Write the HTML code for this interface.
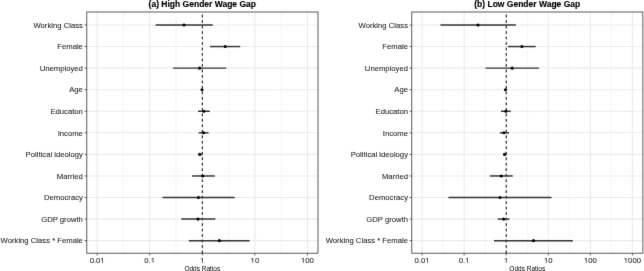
<!DOCTYPE html>
<html><head><meta charset="utf-8"><style>
html,body{margin:0;padding:0;background:#fff;width:644px;height:271px;overflow:hidden}
svg{display:block;-webkit-font-smoothing:antialiased;will-change:transform;font-family:"Liberation Sans",sans-serif}
.g{stroke:#EBEBEB;stroke-width:1.1}
.gm{stroke:#F2F2F2;stroke-width:0.8}
.d{stroke:#000;stroke-width:1;stroke-dasharray:2.6 2.887}
.e{stroke:#333333;stroke-width:1.45}
circle{fill:#000}
.bd{fill:none;stroke:#333333;stroke-width:0.8}
.t{stroke:#333333;stroke-width:0.8}
.yl{text-anchor:end;font-size:7.7px;fill:#262626;stroke:#262626;stroke-width:0.08px}
.xl{text-anchor:middle;font-size:7.7px;fill:#262626;stroke:#262626;stroke-width:0.08px}
.at{text-anchor:middle;font-size:6.5px;fill:#000;stroke:#000;stroke-width:0.0px}
.ti{text-anchor:middle;font-size:8.5px;font-weight:bold;fill:#000;stroke:#000;stroke-width:0.15px}
</style></head><body>
<svg width="644" height="271" viewBox="0 0 644 271">
<defs><filter id="b" x="0" y="0" width="644" height="271" filterUnits="userSpaceOnUse" color-interpolation-filters="sRGB"><feConvolveMatrix order="3" kernelMatrix="0.00524 0.06192 0.00524 0.06192 0.73137 0.06192 0.00524 0.06192 0.00524" edgeMode="duplicate" preserveAlpha="true"/></filter></defs>
<g filter="url(#b)">
<rect width="644" height="271" fill="#fff"/>
<line x1="123.41" y1="12.0" x2="123.41" y2="253.2" class="gm"/>
<line x1="176.00" y1="12.0" x2="176.00" y2="253.2" class="gm"/>
<line x1="228.60" y1="12.0" x2="228.60" y2="253.2" class="gm"/>
<line x1="281.19" y1="12.0" x2="281.19" y2="253.2" class="gm"/>
<line x1="97.12" y1="12.0" x2="97.12" y2="253.2" class="g"/>
<line x1="149.71" y1="12.0" x2="149.71" y2="253.2" class="g"/>
<line x1="202.30" y1="12.0" x2="202.30" y2="253.2" class="g"/>
<line x1="254.89" y1="12.0" x2="254.89" y2="253.2" class="g"/>
<line x1="307.48" y1="12.0" x2="307.48" y2="253.2" class="g"/>
<line x1="86.6" y1="25.00" x2="318.0" y2="25.00" class="g"/>
<line x1="86.6" y1="46.56" x2="318.0" y2="46.56" class="g"/>
<line x1="86.6" y1="68.13" x2="318.0" y2="68.13" class="g"/>
<line x1="86.6" y1="89.70" x2="318.0" y2="89.70" class="g"/>
<line x1="86.6" y1="111.26" x2="318.0" y2="111.26" class="g"/>
<line x1="86.6" y1="132.82" x2="318.0" y2="132.82" class="g"/>
<line x1="86.6" y1="154.39" x2="318.0" y2="154.39" class="g"/>
<line x1="86.6" y1="175.96" x2="318.0" y2="175.96" class="g"/>
<line x1="86.6" y1="197.52" x2="318.0" y2="197.52" class="g"/>
<line x1="86.6" y1="219.09" x2="318.0" y2="219.09" class="g"/>
<line x1="86.6" y1="240.65" x2="318.0" y2="240.65" class="g"/>
<line x1="202.30" y1="253.3" x2="202.30" y2="12.0" class="d"/>
<line x1="155.6" y1="25.00" x2="212.7" y2="25.00" class="e"/>
<circle cx="184.0" cy="25.00" r="1.55"/>
<line x1="210.0" y1="46.56" x2="240.2" y2="46.56" class="e"/>
<circle cx="225.2" cy="46.56" r="1.55"/>
<line x1="173.1" y1="68.13" x2="226.3" y2="68.13" class="e"/>
<circle cx="199.6" cy="68.13" r="1.55"/>
<line x1="201.2" y1="89.70" x2="202.8" y2="89.70" class="e"/>
<circle cx="202.0" cy="89.70" r="1.55"/>
<line x1="198.0" y1="111.26" x2="209.8" y2="111.26" class="e"/>
<circle cx="203.9" cy="111.26" r="1.55"/>
<line x1="198.7" y1="132.82" x2="208.6" y2="132.82" class="e"/>
<circle cx="203.6" cy="132.82" r="1.55"/>
<line x1="198.0" y1="154.39" x2="202.4" y2="154.39" class="e"/>
<circle cx="199.8" cy="154.39" r="1.55"/>
<line x1="192.1" y1="175.96" x2="214.8" y2="175.96" class="e"/>
<circle cx="202.7" cy="175.96" r="1.55"/>
<line x1="162.5" y1="197.52" x2="234.7" y2="197.52" class="e"/>
<circle cx="198.5" cy="197.52" r="1.55"/>
<line x1="181.2" y1="219.09" x2="215.3" y2="219.09" class="e"/>
<circle cx="198.0" cy="219.09" r="1.55"/>
<line x1="188.9" y1="240.65" x2="249.6" y2="240.65" class="e"/>
<circle cx="219.4" cy="240.65" r="1.55"/>
<rect x="86.8" y="12.0" width="231.20" height="241.20" class="bd"/>
<line x1="84.60" y1="25.00" x2="86.8" y2="25.00" class="t"/>
<text transform="translate(82.9,27.75) scale(1.0,1.04)" class="yl">Working Class</text>
<line x1="84.60" y1="46.56" x2="86.8" y2="46.56" class="t"/>
<text transform="translate(82.9,49.31) scale(1.0,1.04)" class="yl">Female</text>
<line x1="84.60" y1="68.13" x2="86.8" y2="68.13" class="t"/>
<text transform="translate(82.9,70.88) scale(1.0,1.04)" class="yl">Unemployed</text>
<line x1="84.60" y1="89.70" x2="86.8" y2="89.70" class="t"/>
<text transform="translate(82.9,92.45) scale(1.0,1.04)" class="yl">Age</text>
<line x1="84.60" y1="111.26" x2="86.8" y2="111.26" class="t"/>
<text transform="translate(82.9,114.01) scale(1.0,1.04)" class="yl">Educaton</text>
<line x1="84.60" y1="132.82" x2="86.8" y2="132.82" class="t"/>
<text transform="translate(82.9,135.57) scale(1.0,1.04)" class="yl">Income</text>
<line x1="84.60" y1="154.39" x2="86.8" y2="154.39" class="t"/>
<text transform="translate(82.9,157.14) scale(1.0,1.04)" class="yl">Political ideology</text>
<line x1="84.60" y1="175.96" x2="86.8" y2="175.96" class="t"/>
<text transform="translate(82.9,178.71) scale(1.0,1.04)" class="yl">Married</text>
<line x1="84.60" y1="197.52" x2="86.8" y2="197.52" class="t"/>
<text transform="translate(82.9,200.27) scale(1.0,1.04)" class="yl">Democracy</text>
<line x1="84.60" y1="219.09" x2="86.8" y2="219.09" class="t"/>
<text transform="translate(82.9,221.84) scale(1.0,1.04)" class="yl">GDP growth</text>
<line x1="84.60" y1="240.65" x2="86.8" y2="240.65" class="t"/>
<text transform="translate(82.9,243.40) scale(1.0,1.04)" class="yl">Working Class * Female</text>
<line x1="97.12" y1="253.2" x2="97.12" y2="255.40" class="t"/>
<g transform="translate(97.12,262.6) scale(1.0,1.04)"><text class="xl">0.01</text><rect x="3.45" y="-0.63" width="1.70" height="0.98" fill="#fff"/><rect x="5.83" y="-0.63" width="1.64" height="0.98" fill="#fff"/></g>
<line x1="149.71" y1="253.2" x2="149.71" y2="255.40" class="t"/>
<g transform="translate(149.71,262.6) scale(1.0,1.04)"><text class="xl">0.1</text><rect x="1.31" y="-0.63" width="1.70" height="0.98" fill="#fff"/><rect x="3.69" y="-0.63" width="1.64" height="0.98" fill="#fff"/></g>
<line x1="202.30" y1="253.2" x2="202.30" y2="255.40" class="t"/>
<g transform="translate(202.30,262.6) scale(1.0,1.04)"><text class="xl">1</text><rect x="-1.90" y="-0.63" width="1.70" height="0.98" fill="#fff"/><rect x="0.48" y="-0.63" width="1.64" height="0.98" fill="#fff"/></g>
<line x1="254.89" y1="253.2" x2="254.89" y2="255.40" class="t"/>
<g transform="translate(254.89,262.6) scale(1.0,1.04)"><text class="xl">10</text><rect x="-4.05" y="-0.63" width="1.70" height="0.98" fill="#fff"/><rect x="-1.67" y="-0.63" width="1.64" height="0.98" fill="#fff"/></g>
<line x1="307.48" y1="253.2" x2="307.48" y2="255.40" class="t"/>
<g transform="translate(307.48,262.6) scale(1.0,1.04)"><text class="xl">100</text><rect x="-6.19" y="-0.63" width="1.70" height="0.98" fill="#fff"/><rect x="-3.81" y="-0.63" width="1.64" height="0.98" fill="#fff"/></g>
<text x="202.30" y="270.8" class="at">Odds Ratios</text>
<text x="202.30" y="7.3" class="ti">(a) High Gender Wage Gap</text>
<line x1="443.14" y1="12.0" x2="443.14" y2="253.2" class="gm"/>
<line x1="485.20" y1="12.0" x2="485.20" y2="253.2" class="gm"/>
<line x1="527.25" y1="12.0" x2="527.25" y2="253.2" class="gm"/>
<line x1="569.30" y1="12.0" x2="569.30" y2="253.2" class="gm"/>
<line x1="611.36" y1="12.0" x2="611.36" y2="253.2" class="gm"/>
<line x1="422.11" y1="12.0" x2="422.11" y2="253.2" class="g"/>
<line x1="464.17" y1="12.0" x2="464.17" y2="253.2" class="g"/>
<line x1="506.22" y1="12.0" x2="506.22" y2="253.2" class="g"/>
<line x1="548.28" y1="12.0" x2="548.28" y2="253.2" class="g"/>
<line x1="590.33" y1="12.0" x2="590.33" y2="253.2" class="g"/>
<line x1="632.39" y1="12.0" x2="632.39" y2="253.2" class="g"/>
<line x1="411.6" y1="25.00" x2="642.9" y2="25.00" class="g"/>
<line x1="411.6" y1="46.56" x2="642.9" y2="46.56" class="g"/>
<line x1="411.6" y1="68.13" x2="642.9" y2="68.13" class="g"/>
<line x1="411.6" y1="89.70" x2="642.9" y2="89.70" class="g"/>
<line x1="411.6" y1="111.26" x2="642.9" y2="111.26" class="g"/>
<line x1="411.6" y1="132.82" x2="642.9" y2="132.82" class="g"/>
<line x1="411.6" y1="154.39" x2="642.9" y2="154.39" class="g"/>
<line x1="411.6" y1="175.96" x2="642.9" y2="175.96" class="g"/>
<line x1="411.6" y1="197.52" x2="642.9" y2="197.52" class="g"/>
<line x1="411.6" y1="219.09" x2="642.9" y2="219.09" class="g"/>
<line x1="411.6" y1="240.65" x2="642.9" y2="240.65" class="g"/>
<line x1="506.22" y1="253.3" x2="506.22" y2="12.0" class="d"/>
<line x1="440.4" y1="25.00" x2="515.9" y2="25.00" class="e"/>
<circle cx="478.0" cy="25.00" r="1.55"/>
<line x1="508.0" y1="46.56" x2="535.7" y2="46.56" class="e"/>
<circle cx="521.9" cy="46.56" r="1.55"/>
<line x1="485.6" y1="68.13" x2="539.1" y2="68.13" class="e"/>
<circle cx="512.1" cy="68.13" r="1.55"/>
<line x1="504.0" y1="89.70" x2="507.0" y2="89.70" class="e"/>
<circle cx="505.4" cy="89.70" r="1.55"/>
<line x1="501.0" y1="111.26" x2="510.7" y2="111.26" class="e"/>
<circle cx="505.9" cy="111.26" r="1.55"/>
<line x1="499.9" y1="132.82" x2="509.0" y2="132.82" class="e"/>
<circle cx="503.9" cy="132.82" r="1.55"/>
<line x1="503.1" y1="154.39" x2="506.5" y2="154.39" class="e"/>
<circle cx="504.6" cy="154.39" r="1.55"/>
<line x1="489.9" y1="175.96" x2="512.7" y2="175.96" class="e"/>
<circle cx="501.2" cy="175.96" r="1.55"/>
<line x1="448.4" y1="197.52" x2="551.5" y2="197.52" class="e"/>
<circle cx="500.0" cy="197.52" r="1.55"/>
<line x1="497.7" y1="219.09" x2="509.5" y2="219.09" class="e"/>
<circle cx="503.6" cy="219.09" r="1.55"/>
<line x1="494.0" y1="240.65" x2="572.8" y2="240.65" class="e"/>
<circle cx="533.5" cy="240.65" r="1.55"/>
<rect x="411.8" y="12.0" width="231.10" height="241.20" class="bd"/>
<line x1="409.60" y1="25.00" x2="411.8" y2="25.00" class="t"/>
<text transform="translate(408.0,27.75) scale(1.0,1.04)" class="yl">Working Class</text>
<line x1="409.60" y1="46.56" x2="411.8" y2="46.56" class="t"/>
<text transform="translate(408.0,49.31) scale(1.0,1.04)" class="yl">Female</text>
<line x1="409.60" y1="68.13" x2="411.8" y2="68.13" class="t"/>
<text transform="translate(408.0,70.88) scale(1.0,1.04)" class="yl">Unemployed</text>
<line x1="409.60" y1="89.70" x2="411.8" y2="89.70" class="t"/>
<text transform="translate(408.0,92.45) scale(1.0,1.04)" class="yl">Age</text>
<line x1="409.60" y1="111.26" x2="411.8" y2="111.26" class="t"/>
<text transform="translate(408.0,114.01) scale(1.0,1.04)" class="yl">Educaton</text>
<line x1="409.60" y1="132.82" x2="411.8" y2="132.82" class="t"/>
<text transform="translate(408.0,135.57) scale(1.0,1.04)" class="yl">Income</text>
<line x1="409.60" y1="154.39" x2="411.8" y2="154.39" class="t"/>
<text transform="translate(408.0,157.14) scale(1.0,1.04)" class="yl">Political ideology</text>
<line x1="409.60" y1="175.96" x2="411.8" y2="175.96" class="t"/>
<text transform="translate(408.0,178.71) scale(1.0,1.04)" class="yl">Married</text>
<line x1="409.60" y1="197.52" x2="411.8" y2="197.52" class="t"/>
<text transform="translate(408.0,200.27) scale(1.0,1.04)" class="yl">Democracy</text>
<line x1="409.60" y1="219.09" x2="411.8" y2="219.09" class="t"/>
<text transform="translate(408.0,221.84) scale(1.0,1.04)" class="yl">GDP growth</text>
<line x1="409.60" y1="240.65" x2="411.8" y2="240.65" class="t"/>
<text transform="translate(408.0,243.40) scale(1.0,1.04)" class="yl">Working Class * Female</text>
<line x1="422.11" y1="253.2" x2="422.11" y2="255.40" class="t"/>
<g transform="translate(422.11,262.6) scale(1.0,1.04)"><text class="xl">0.01</text><rect x="3.45" y="-0.63" width="1.70" height="0.98" fill="#fff"/><rect x="5.83" y="-0.63" width="1.64" height="0.98" fill="#fff"/></g>
<line x1="464.17" y1="253.2" x2="464.17" y2="255.40" class="t"/>
<g transform="translate(464.17,262.6) scale(1.0,1.04)"><text class="xl">0.1</text><rect x="1.31" y="-0.63" width="1.70" height="0.98" fill="#fff"/><rect x="3.69" y="-0.63" width="1.64" height="0.98" fill="#fff"/></g>
<line x1="506.22" y1="253.2" x2="506.22" y2="255.40" class="t"/>
<g transform="translate(506.22,262.6) scale(1.0,1.04)"><text class="xl">1</text><rect x="-1.90" y="-0.63" width="1.70" height="0.98" fill="#fff"/><rect x="0.48" y="-0.63" width="1.64" height="0.98" fill="#fff"/></g>
<line x1="548.28" y1="253.2" x2="548.28" y2="255.40" class="t"/>
<g transform="translate(548.28,262.6) scale(1.0,1.04)"><text class="xl">10</text><rect x="-4.05" y="-0.63" width="1.70" height="0.98" fill="#fff"/><rect x="-1.67" y="-0.63" width="1.64" height="0.98" fill="#fff"/></g>
<line x1="590.33" y1="253.2" x2="590.33" y2="255.40" class="t"/>
<g transform="translate(590.33,262.6) scale(1.0,1.04)"><text class="xl">100</text><rect x="-6.19" y="-0.63" width="1.70" height="0.98" fill="#fff"/><rect x="-3.81" y="-0.63" width="1.64" height="0.98" fill="#fff"/></g>
<line x1="632.39" y1="253.2" x2="632.39" y2="255.40" class="t"/>
<g transform="translate(632.39,262.6) scale(1.0,1.04)"><text class="xl">1000</text><rect x="-8.33" y="-0.63" width="1.70" height="0.98" fill="#fff"/><rect x="-5.95" y="-0.63" width="1.64" height="0.98" fill="#fff"/></g>
<text x="527.25" y="270.8" class="at">Odds Ratios</text>
<text x="527.25" y="7.3" class="ti">(b) Low Gender Wage Gap</text>
</g>
</svg>
</body></html>
